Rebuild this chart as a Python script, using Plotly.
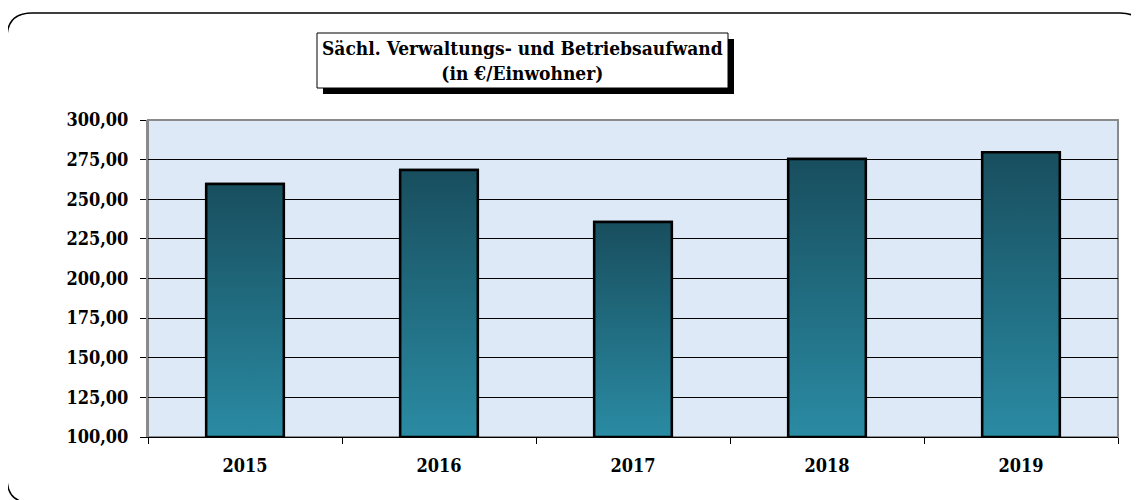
import plotly.graph_objects as go

# ---- data ----
years = ["2015", "2016", "2017", "2018", "2019"]
values = [259.6, 268.5, 235.6, 275.4, 279.6]
y_ticks = [100, 125, 150, 175, 200, 225, 250, 275, 300]
title_lines = ["Sächl. Verwaltungs- und Betriebsaufwand", "(in €/Einwohner)"]

# ---- layout constants (page pixels) ----
OFF = 8  # default body margin of the page
W, H = 1139 - OFF, 500 - OFF
L, R, T, B = 148, 1118, 120, 437
PW, PH = R - L, B - T
BAR_W = 0.40
FONT = "DejaVu Serif Condensed, DejaVu Serif, serif"
TOP_COL = "#184e5e"
BOT_COL = "#2a8ba3"


def px(x):
    return (x - L) / PW


def py(y):
    return (B - y) / PH


fig = go.Figure()

pos = list(range(len(years)))
fig.add_trace(go.Bar(
    x=pos, y=[v - y_ticks[0] for v in values], base=y_ticks[0], width=BAR_W,
    marker=dict(color=BOT_COL, line=dict(color="black", width=2.5)),
    showlegend=False, hoverinfo="skip",
))
for i, v in zip(pos, values):
    x0, x1 = i - BAR_W / 2, i + BAR_W / 2
    fig.add_trace(go.Scatter(
        x=[x0, x0, x1, x1, x0], y=[y_ticks[0], v, v, y_ticks[0], y_ticks[0]],
        mode="lines", fill="toself",
        fillgradient=dict(type="vertical", colorscale=[[0, BOT_COL], [1, TOP_COL]]),
        line=dict(color="black", width=2.5),
        showlegend=False, hoverinfo="skip",
    ))

shapes = []
shapes.append(dict(type="rect", xref="paper", yref="paper", x0=0, x1=1, y0=0, y1=1,
                   line=dict(color="#8a8a8a", width=2), layer="below"))

fx0, fy0, fx1, fy1, r = 7, 13, 1145, 503, 25
path = (
    f"M {px(fx0)},{py(fy0 + r)} "
    f"Q {px(fx0)},{py(fy0)} {px(fx0 + r)},{py(fy0)} "
    f"L {px(fx1 - r)},{py(fy0)} "
    f"Q {px(fx1)},{py(fy0)} {px(fx1)},{py(fy0 + r)} "
    f"L {px(fx1)},{py(fy1 - r)} "
    f"Q {px(fx1)},{py(fy1)} {px(fx1 - r)},{py(fy1)} "
    f"L {px(fx0 + r)},{py(fy1)} "
    f"Q {px(fx0)},{py(fy1)} {px(fx0)},{py(fy1 - r)} Z"
)
shapes.append(dict(type="path", xref="paper", yref="paper", path=path,
                   line=dict(color="black", width=1.5)))

bx0, by0, bx1, by1, sh = 317, 33, 728, 88, 6
shapes.append(dict(type="rect", xref="paper", yref="paper",
                   x0=px(bx0 + sh), x1=px(bx1 + sh), y0=py(by1 + sh), y1=py(by0 + sh),
                   fillcolor="black", line=dict(width=0)))
shapes.append(dict(type="rect", xref="paper", yref="paper",
                   x0=px(bx0), x1=px(bx1), y0=py(by1), y1=py(by0),
                   fillcolor="white", line=dict(color="black", width=1)))

fig.update_layout(
    width=W, height=H,
    margin=dict(l=L - OFF, r=W - (R - OFF), t=T - OFF, b=H - (B - OFF), pad=0),
    paper_bgcolor="white",
    plot_bgcolor="#dde9f7",
    separators=",.",
    font=dict(family=FONT, size=17, color="black"),
    shapes=shapes,
    annotations=[dict(
        xref="paper", yref="paper", x=px((bx0 + bx1) / 2), y=py((by0 + by1) / 2),
        text="<b>" + "<br>".join(title_lines) + "</b>", showarrow=False,
        font=dict(family=FONT, size=19, color="black"), align="center",
        xanchor="center", yanchor="middle",
    )],
)

fig.update_yaxes(
    range=[y_ticks[0], y_ticks[-1]], tickvals=y_ticks, tickformat=".2f",
    showgrid=True, gridcolor="black", gridwidth=1,
    showline=True, linecolor="#8a8a8a", linewidth=2,
    ticks="outside", ticklen=6, tickcolor="black", tickwidth=1,
    ticklabelstandoff=8,
    tickfont=dict(family=FONT, size=18, weight="bold"),
    zeroline=False,
)
fig.update_xaxes(
    range=[-0.5, len(years) - 0.5], tickvals=pos, ticktext=years,
    showgrid=False, zeroline=False,
    showline=True, linecolor="black", linewidth=1,
    ticks="", ticklabelstandoff=12,
    tickfont=dict(family=FONT, size=18, weight="bold"),
    minor=dict(tickvals=[p - 0.5 for p in pos] + [pos[-1] + 0.5],
               ticks="outside", ticklen=6, tickcolor="black", tickwidth=1, showgrid=False),
)

fig.write_html("out.html")
